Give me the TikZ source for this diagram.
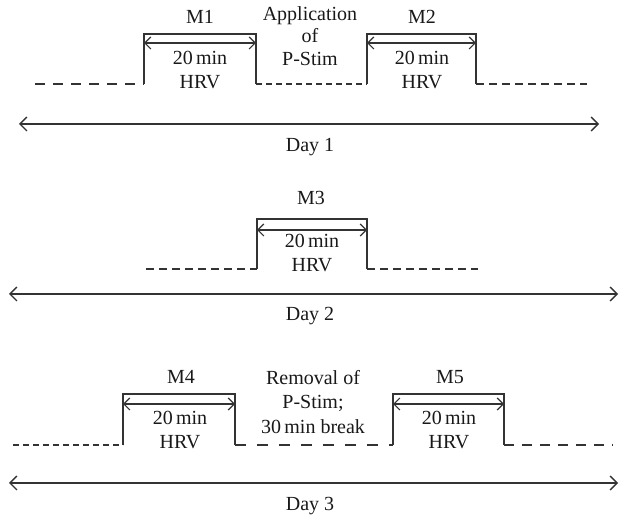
\documentclass[tikz,border=0pt]{standalone}
\usepackage{fontspec}
\setmainfont{Liberation Serif}
\usetikzlibrary{arrows.meta}

\begin{document}
\begin{tikzpicture}[x=1pt,y=-1pt,
	every node/.style={font=\fontsize{20}{22}\selectfont,inner sep=0pt,text=black!90},
	lbl/.style={anchor=base},
	box/.style={line width=1.3pt,draw=black!80},
	dim/.style={line width=1.2pt,draw=black!80,{Straight Barb[length=6pt,width=12pt]}-{Straight Barb[length=6pt,width=12pt]}},
	dayline/.style={line width=1.3pt,draw=black!80,{Straight Barb[length=7pt,width=14pt]}-{Straight Barb[length=7pt,width=14pt]}},
	longdash/.style={line width=1.2pt,draw=black!80,dash pattern=on 10pt off 8pt},
	middash/.style={line width=1.2pt,draw=black!80,dash pattern=on 8pt off 5pt},
	shortdash/.style={line width=1.2pt,draw=black!80,dash pattern=on 6pt off 4pt},
	gapdash/.style={line width=1.2pt,draw=black!80,dash pattern=on 11pt off 11pt}]
\useasboundingbox (0,0) rectangle (619,518);

	% Day 1
	\draw[longdash] (35,84) -- (144,84);
	\draw[box] (144,84) -- (144,34) -- (256,34) -- (256,84);
	\draw[dim] (144,43) -- (256,43);
	\node[lbl] (m1) at (200,24) {M1};
	\node[lbl] (m1a) at (200,65) {20\,min};
	\node[lbl] (m1b) at (200,89) {HRV};
	\draw[shortdash] (256,84) -- (367,84);
	\node[lbl] (app1) at (310,21) {Application};
	\node[lbl] (app2) at (310,43) {of};
	\node[lbl] (app3) at (310,66) {P-Stim};
	\draw[box] (367,84) -- (367,34) -- (476,34) -- (476,84);
	\draw[dim] (367,43) -- (476,43);
	\node[lbl] (m2) at (422,24) {M2};
	\node[lbl] (m2a) at (422,65) {20\,min};
	\node[lbl] (m2b) at (422,89) {HRV};
	\draw[middash] (476,84) -- (587,84);
	\coordinate (d1l) at (19,124);
	\coordinate (d1r) at (599,124);
	\draw[dayline] (d1l) -- (d1r);
	\node[lbl] (day1) at (310,152) {Day 1};

	% Day 2
	\draw[middash] (146,269) -- (257,269);
	\draw[box] (257,269) -- (257,219) -- (367,219) -- (367,269);
	\draw[dim] (257,230) -- (367,230);
	\node[lbl] (m3) at (311,205) {M3};
	\node[lbl] (m3a) at (312,248) {20\,min};
	\node[lbl] (m3b) at (312,272) {HRV};
	\draw[middash] (367,269) -- (478,269);
	\coordinate (d2l) at (9,294);
	\coordinate (d2r) at (618,294);
	\draw[dayline] (d2l) -- (d2r);
	\node[lbl] (day2) at (310,321) {Day 2};

	% Day 3
	\draw[shortdash] (13,445) -- (123,445);
	\draw[box] (123,445) -- (123,394) -- (235,394) -- (235,445);
	\draw[dim] (123,404) -- (235,404);
	\node[lbl] (m4) at (181,384) {M4};
	\node[lbl] (m4a) at (180,425) {20\,min};
	\node[lbl] (m4b) at (180,449) {HRV};
	\draw[gapdash] (235,445) -- (393,445);
	\node[lbl] (rem1) at (313,385) {Removal of};
	\node[lbl] (rem2) at (313,409) {P-Stim;};
	\node[lbl] (rem3) at (313,434) {30\,min break};
	\draw[box] (393,445) -- (393,394) -- (504,394) -- (504,445);
	\draw[dim] (393,404) -- (504,404);
	\node[lbl] (m5) at (450,384) {M5};
	\node[lbl] (m5a) at (449,425) {20\,min};
	\node[lbl] (m5b) at (449,449) {HRV};
	\draw[longdash] (504,445) -- (613,445);
	\coordinate (d3l) at (9,483);
	\coordinate (d3r) at (618,483);
	\draw[dayline] (d3l) -- (d3r);
	\node[lbl] (day3) at (310,511) {Day 3};

\end{tikzpicture}
\end{document}
